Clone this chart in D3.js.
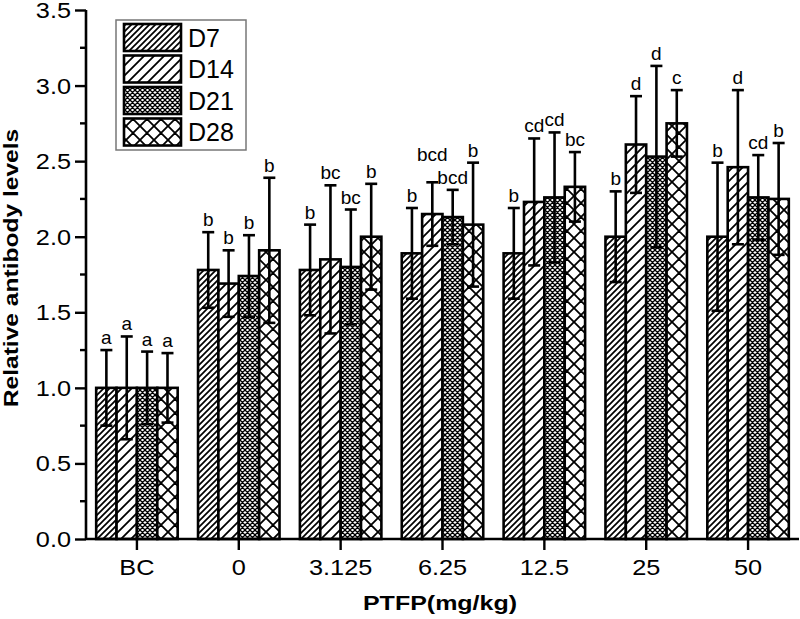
<!DOCTYPE html>
<html>
<head>
<meta charset="utf-8">
<script src="https://cdn.jsdelivr.net/npm/d3@7"></script>
<style>
  html, body { margin: 0; padding: 0; background: #fff; }
  text { font-family: "Liberation Sans", Arial, sans-serif; }
</style>
</head>
<body>
<svg id="chart" width="800" height="619"></svg>
<script>
// ---- data ----
const categories = ["BC", "0", "3.125", "6.25", "12.5", "25", "50"];
const seriesNames = ["D7", "D14", "D21", "D28"];
const D7  = [1.00, 1.78, 1.78, 1.89, 1.89, 2.00, 2.00];
const D14 = [1.00, 1.69, 1.85, 2.15, 2.23, 2.61, 2.46];
const D21 = [1.00, 1.74, 1.80, 2.13, 2.26, 2.53, 2.26];
const D28 = [1.00, 1.91, 2.00, 2.08, 2.33, 2.75, 2.25];
const errD7  = [0.25, 0.25, 0.30, 0.30, 0.30, 0.30, 0.49];
const errD14 = [0.34, 0.22, 0.49, 0.21, 0.42, 0.32, 0.51];
const errD21 = [0.24, 0.27, 0.38, 0.18, 0.43, 0.60, 0.28];
const errD28 = [0.23, 0.48, 0.35, 0.41, 0.23, 0.22, 0.37];
const lblD7  = ["a", "b", "b", "b", "b", "b", "b"];
const lblD14 = ["a", "b", "bc", "bcd", "cd", "d", "d"];
const lblD21 = ["a", "b", "bc", "bcd", "cd", "d", "cd"];
const lblD28 = ["a", "b", "b", "b", "bc", "c", "b"];
const yTicks = [0, 0.5, 1.0, 1.5, 2.0, 2.5, 3.0, 3.5];
const yMinorTicks = [0.25, 0.75, 1.25, 1.75, 2.25, 2.75, 3.25];
const xTitle = "PTFP(mg/kg)";
const yTitle = "Relative antibody levels";

const values = [D7, D14, D21, D28];
const errors = [errD7, errD14, errD21, errD28];
const letters = [lblD7, lblD14, lblD21, lblD28];

// ---- layout ----
const svg = d3.select("#chart");
const mLeft = 86, mRight = 799, mTop = 10, mBottom = 539;

const x0 = d3.scaleBand().domain(categories).range([mLeft, mRight]).paddingInner(0.2).paddingOuter(0.1);
const x1 = d3.scaleBand().domain(seriesNames).range([0, x0.bandwidth()]).padding(0);
const y = d3.scaleLinear().domain([0, 3.5]).range([mBottom, mTop]);

// ---- patterns ----
const defs = svg.append("defs");
function pat(id, size, d, sw) {
  const p = defs.append("pattern").attr("id", id).attr("patternUnits", "userSpaceOnUse")
    .attr("width", size).attr("height", size);
  p.append("rect").attr("width", size).attr("height", size).attr("fill", "#fff");
  p.append("path").attr("d", d).attr("stroke", "#000").attr("stroke-width", sw).attr("fill", "none");
}
function diag(s) { return `M0,${s} L${s},0 M${-s/2},${s/2} L${s/2},${-s/2} M${s/2},${s*1.5} L${s*1.5},${s/2}`; }
function cross(s) { return diag(s) + ` M0,0 L${s},${s} M${-s/2},${s/2} L${s/2},${s*1.5} M${s/2},${-s/2} L${s*1.5},${s/2}`; }
pat("pD7", 6, diag(6), 1.7);
pat("pD14", 10, diag(10), 1.8);
pat("pD21", 5, cross(5), 1.3);
pat("pD28", 14, cross(14), 1.8);
const fills = ["url(#pD7)", "url(#pD14)", "url(#pD21)", "url(#pD28)"];

function stext(g, x, yy, str, size, sx, anchor, weight, rot) {
  const t = g.append("text")
    .attr("transform", `translate(${x},${yy})` + (rot ? ` rotate(${rot})` : "") + ` scale(${sx},1)`)
    .attr("text-anchor", anchor).attr("font-size", size).attr("fill", "#000")
    .text(str);
  if (weight) t.attr("font-weight", weight);
  return t;
}

// ---- bars ----
const gBars = svg.append("g");
categories.forEach((c, i) => {
  seriesNames.forEach((s, j) => {
    const v = values[j][i];
    const bx = x0(c) + x1(s);
    gBars.append("rect")
      .attr("x", bx).attr("y", y(v))
      .attr("width", x1.bandwidth()).attr("height", y(0) - y(v))
      .attr("fill", fills[j]).attr("stroke", "#000").attr("stroke-width", 2.6);
  });
});

// ---- error bars & letters ----
const gErr = svg.append("g");
const LSIZE = 19;
categories.forEach((c, i) => {
  const labs = [];
  seriesNames.forEach((s, j) => {
    const v = values[j][i], e = errors[j][i];
    const cx = x0(c) + x1(s) + x1.bandwidth() / 2;
    gErr.append("line").attr("x1", cx).attr("x2", cx).attr("y1", y(v - e)).attr("y2", y(v + e))
      .attr("stroke", "#000").attr("stroke-width", 2.6);
    [v - e, v + e].forEach(w => {
      gErr.append("line").attr("x1", cx - 6).attr("x2", cx + 6).attr("y1", y(w)).attr("y2", y(w))
        .attr("stroke", "#000").attr("stroke-width", 2.6);
    });
    const by = y(v + e) - 6;
    const t = stext(gErr, cx, by, letters[j][i], LSIZE, 1.0, "middle");
    labs.push({ t, cx, by, w: t.node().getComputedTextLength() });
  });
  // avoid label collisions: lift the left label above its right neighbour
  for (let j = labs.length - 2; j >= 0; j--) {
    const a = labs[j], b = labs[j + 1];
    const hOverlap = (a.cx + a.w / 2) > (b.cx - b.w / 2) + 1;
    const vOverlap = Math.abs(a.by - b.by) < LSIZE * 0.75;
    if (hOverlap && vOverlap) {
      a.by = Math.min(a.by, b.by - LSIZE * 0.75 - 9);
      a.t.attr("transform", `translate(${a.cx},${a.by}) scale(1,1)`);
    }
  }
});

// ---- axes ----
const gAxes = svg.append("g");
const yAxis = d3.axisLeft(y).tickValues(yTicks).tickFormat(d3.format(".1f")).tickSize(11).tickPadding(4);
const gy = gAxes.append("g").attr("transform", `translate(${mLeft},0)`).call(yAxis);
gy.select(".domain").attr("stroke-width", 2.6).attr("d", `M0,${mTop}V${mBottom}`);
gy.selectAll(".tick line").attr("stroke-width", 2.4);
gy.selectAll(".tick text").remove();
yTicks.forEach(t => stext(gAxes, mLeft - 15, y(t) + 8, d3.format(".1f")(t), 22, 1.15, "end"));
yMinorTicks.forEach(t => gAxes.append("line").attr("x1", mLeft - 6).attr("x2", mLeft).attr("y1", y(t)).attr("y2", y(t))
  .attr("stroke", "#000").attr("stroke-width", 2.4));

const xAxis = d3.axisBottom(x0).tickSize(11).tickPadding(6);
const gx = gAxes.append("g").attr("transform", `translate(0,${mBottom})`).call(xAxis);
gx.select(".domain").attr("stroke-width", 2.6).attr("d", `M${mLeft},0H${mRight}`);
gx.selectAll(".tick line").attr("stroke-width", 2.4);
gx.selectAll(".tick text").remove();
categories.forEach(c => stext(gAxes, x0(c) + x0.bandwidth() / 2, 575, c, 22, 1.15, "middle"));

// titles
stext(svg, 440, 610, xTitle, 20, 1.25, "middle", "bold");
stext(svg, 17.5, 268, yTitle, 19.5, 1.26, "middle", "bold", -90);

// ---- legend ----
const gLeg = svg.append("g");
gLeg.append("rect").attr("x", 116).attr("y", 20).attr("width", 130).attr("height", 130)
  .attr("fill", "#fff").attr("stroke", "#777").attr("stroke-width", 1.5);
seriesNames.forEach((s, j) => {
  const cy = 37.5 + j * 31.5;
  gLeg.append("rect").attr("x", 124).attr("y", cy - 13.5).attr("width", 57).attr("height", 27)
    .attr("fill", fills[j]).attr("stroke", "#000").attr("stroke-width", 2.6);
  stext(gLeg, 188, cy + 9, s, 25, 1.0, "start");
});
</script>
</body>
</html>
